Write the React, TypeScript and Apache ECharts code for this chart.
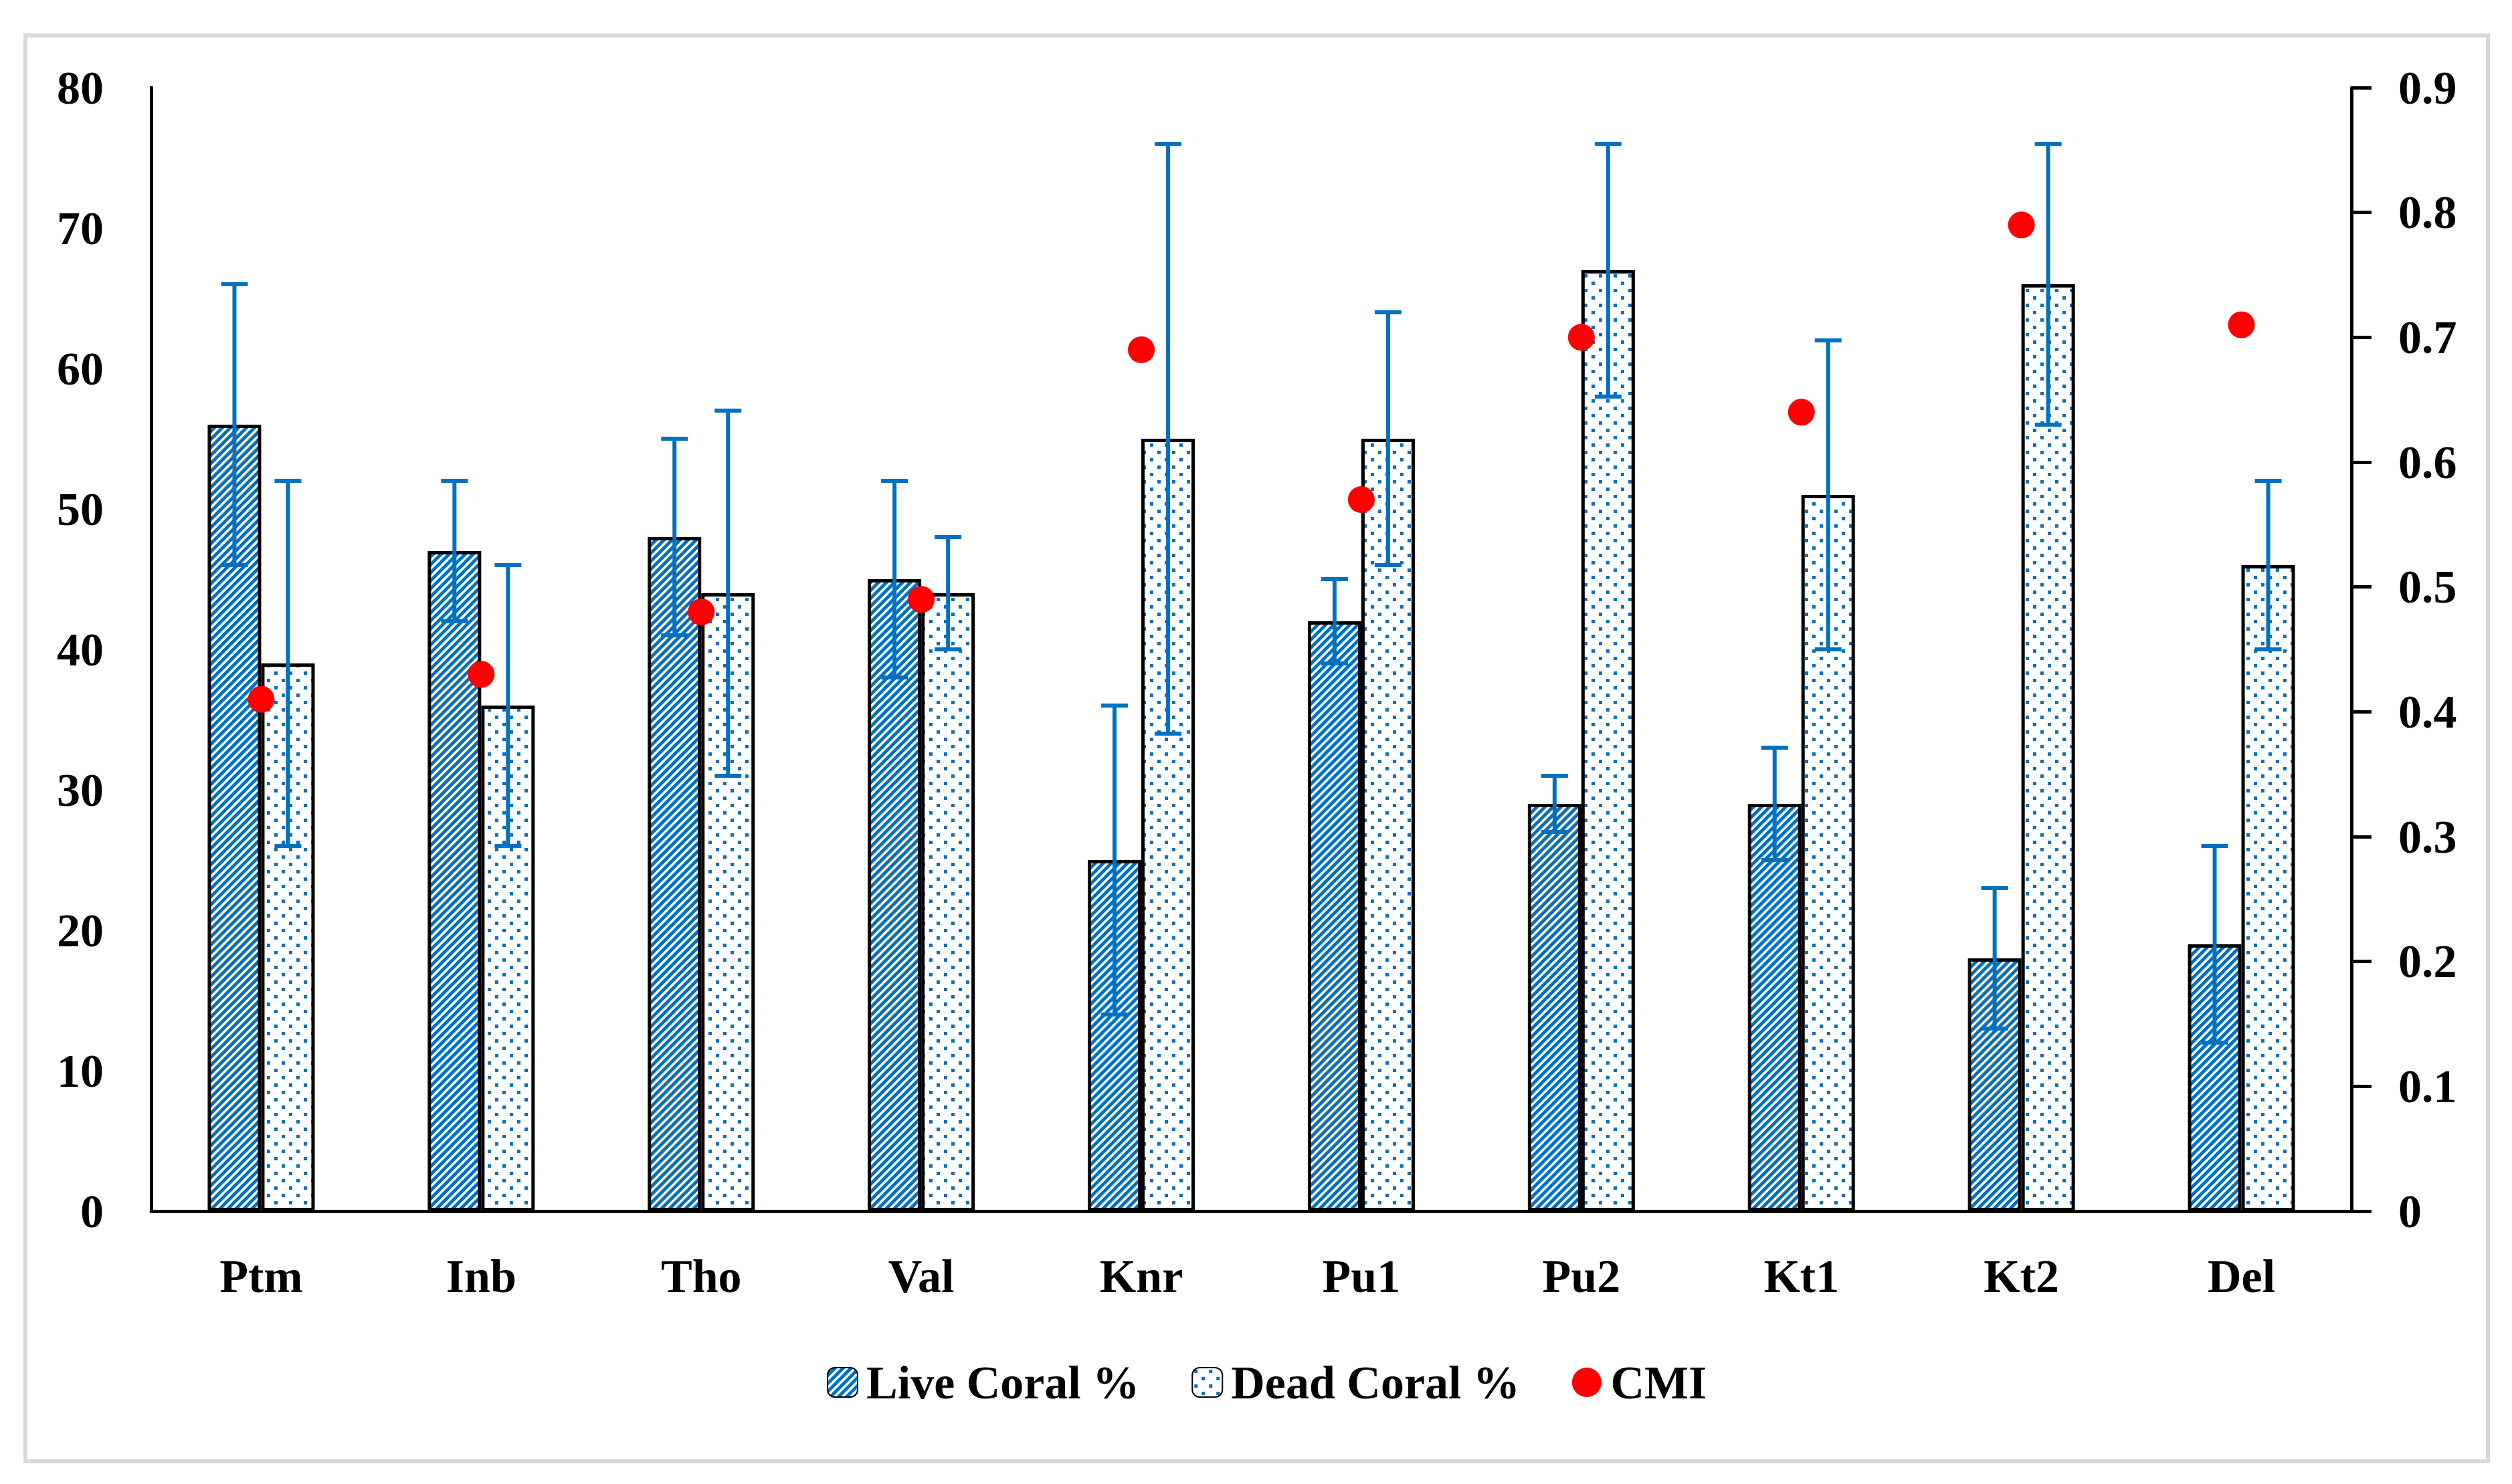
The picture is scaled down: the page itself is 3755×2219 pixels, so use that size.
import React, { useEffect, useRef } from "react";
import * as echarts from "echarts";

const categories = ["Ptm", "Inb", "Tho", "Val", "Knr", "Pu1", "Pu2", "Kt1", "Kt2", "Del"];
const liveCoral = [56, 47, 48, 45, 25, 42, 29, 29, 18, 19];
const liveErr = [10, 5, 7, 7, 11, 3, 2, 4, 5, 7];
const deadCoral = [39, 36, 44, 44, 55, 55, 67, 51, 66, 46];
const deadErr = [13, 10, 13, 4, 21, 9, 9, 11, 10, 6];
const cmi = [0.41, 0.43, 0.48, 0.49, 0.69, 0.57, 0.7, 0.64, 0.79, 0.71];

const BLUE = "#0070C0";
const FONT = "'Liberation Serif', 'Times New Roman', serif";
const BAR_W = 80;

function hatchPattern() {
  const s = 12;
  const c = document.createElement("canvas");
  c.width = s;
  c.height = s;
  const ctx = c.getContext("2d")!;
  ctx.fillStyle = "#ffffff";
  ctx.fillRect(0, 0, s, s);
  ctx.strokeStyle = BLUE;
  ctx.lineWidth = 4.8;
  for (const k of [-1, 0, 1]) {
    ctx.beginPath();
    ctx.moveTo(k * s - 2, s + 2);
    ctx.lineTo(k * s + s + 2, -2);
    ctx.stroke();
  }
  return { image: c.toDataURL(), imageWidth: s, imageHeight: s, repeat: "repeat" };
}

function dotPattern() {
  const s = 22;
  const c = document.createElement("canvas");
  c.width = s;
  c.height = s;
  const ctx = c.getContext("2d")!;
  ctx.fillStyle = "#ffffff";
  ctx.fillRect(0, 0, s, s);
  ctx.fillStyle = BLUE;
  ctx.fillRect(3, 3, 5, 5);
  ctx.fillRect(14, 14, 5, 5);
  return { image: c.toDataURL(), imageWidth: s, imageHeight: s, repeat: "repeat" };
}

function errorSeries(name: string, values: number[], errs: number[], offset: number) {
  return {
    name,
    type: "custom",
    xAxisIndex: 0,
    yAxisIndex: 0,
    z: 5,
    clip: false,
    encode: { x: 0, y: [1, 2] },
    data: values.map((v, i) => [i, v - errs[i], v + errs[i]]),
    renderItem: (params: any, api: any) => {
      const idx = api.value(0);
      const lo = api.coord([idx, api.value(1)]);
      const hi = api.coord([idx, api.value(2)]);
      const x = lo[0] + offset;
      const half = 20;
      const style = { stroke: BLUE, lineWidth: 6 };
      return {
        type: "group",
        children: [
          { type: "line", shape: { x1: x, y1: lo[1], x2: x, y2: hi[1] }, style },
          { type: "line", shape: { x1: x - half, y1: hi[1], x2: x + half, y2: hi[1] }, style },
          { type: "line", shape: { x1: x - half, y1: lo[1], x2: x + half, y2: lo[1] }, style },
        ],
      };
    },
  };
}

export default function App() {
  const ref = useRef<HTMLDivElement>(null);
  useEffect(() => {
    if (!ref.current) return;
    const chart = echarts.init(ref.current, null, { renderer: "svg" });
    const labelStyle = { color: "#000", fontFamily: FONT, fontWeight: "bold", fontSize: 70 };
    const axisLine = { show: true, lineStyle: { color: "#000", width: 5 } };
    chart.setOption({
      animation: false,
      backgroundColor: "#fff",
      graphic: [
        {
          type: "rect",
          shape: { x: 38, y: 53, width: 3681, height: 2132 },
          style: { fill: "none", stroke: "#d9d9d9", lineWidth: 6 },
          silent: true,
        },
      ],
      grid: { left: 226, right: 240, top: 131, bottom: 408, containLabel: false },
      legend: {
        left: 1231,
        top: 2027,
        itemWidth: 45,
        itemHeight: 44,
        itemGap: 78,
        textStyle: { ...labelStyle, padding: [0, 0, 0, 8] },
        data: [
          { name: "Live Coral %" },
          { name: "Dead Coral %" },
          { name: "CMI", icon: "circle", itemStyle: { color: "#FF0000", opacity: 1 } },
        ],
      },
      xAxis: {
        type: "category",
        data: categories,
        axisLine,
        axisTick: { show: false },
        axisLabel: { ...labelStyle, margin: 62 },
        splitLine: { show: false },
      },
      yAxis: [
        {
          type: "value",
          min: 0,
          max: 80,
          interval: 10,
          axisLine,
          axisTick: { show: false },
          axisLabel: { ...labelStyle, margin: 71 },
          splitLine: { show: false },
        },
        {
          type: "value",
          min: 0,
          max: 0.9,
          interval: 0.1,
          position: "right",
          axisLine,
          axisTick: { show: true, inside: false, length: 30, lineStyle: { color: "#000", width: 5 } },
          axisLabel: { ...labelStyle, margin: 70 },
          splitLine: { show: false },
        },
      ],
      series: [
        {
          name: "Live Coral %",
          type: "bar",
          barWidth: BAR_W,
          barGap: "0%",
          data: liveCoral,
          z: 2,
          itemStyle: { color: hatchPattern(), borderColor: "#000", borderWidth: 5 },
        },
        {
          name: "Dead Coral %",
          type: "bar",
          barWidth: BAR_W,
          barGap: "0%",
          data: deadCoral,
          z: 2,
          itemStyle: { color: dotPattern(), borderColor: "#000", borderWidth: 5 },
        },
        errorSeries("liveErr", liveCoral, liveErr, -BAR_W / 2),
        errorSeries("deadErr", deadCoral, deadErr, BAR_W / 2),
        {
          name: "CMI",
          type: "scatter",
          yAxisIndex: 1,
          symbol: "circle",
          symbolSize: 40,
          z: 10,
          data: cmi,
          itemStyle: { color: "#FF0000", opacity: 1 },
        },
      ],
    });
    return () => chart.dispose();
  }, []);
  return (
    <div
      ref={ref}
      style={{ position: "fixed", left: 0, top: 0, width: "3755px", height: "2219px", background: "#fff" }}
    />
  );
}
